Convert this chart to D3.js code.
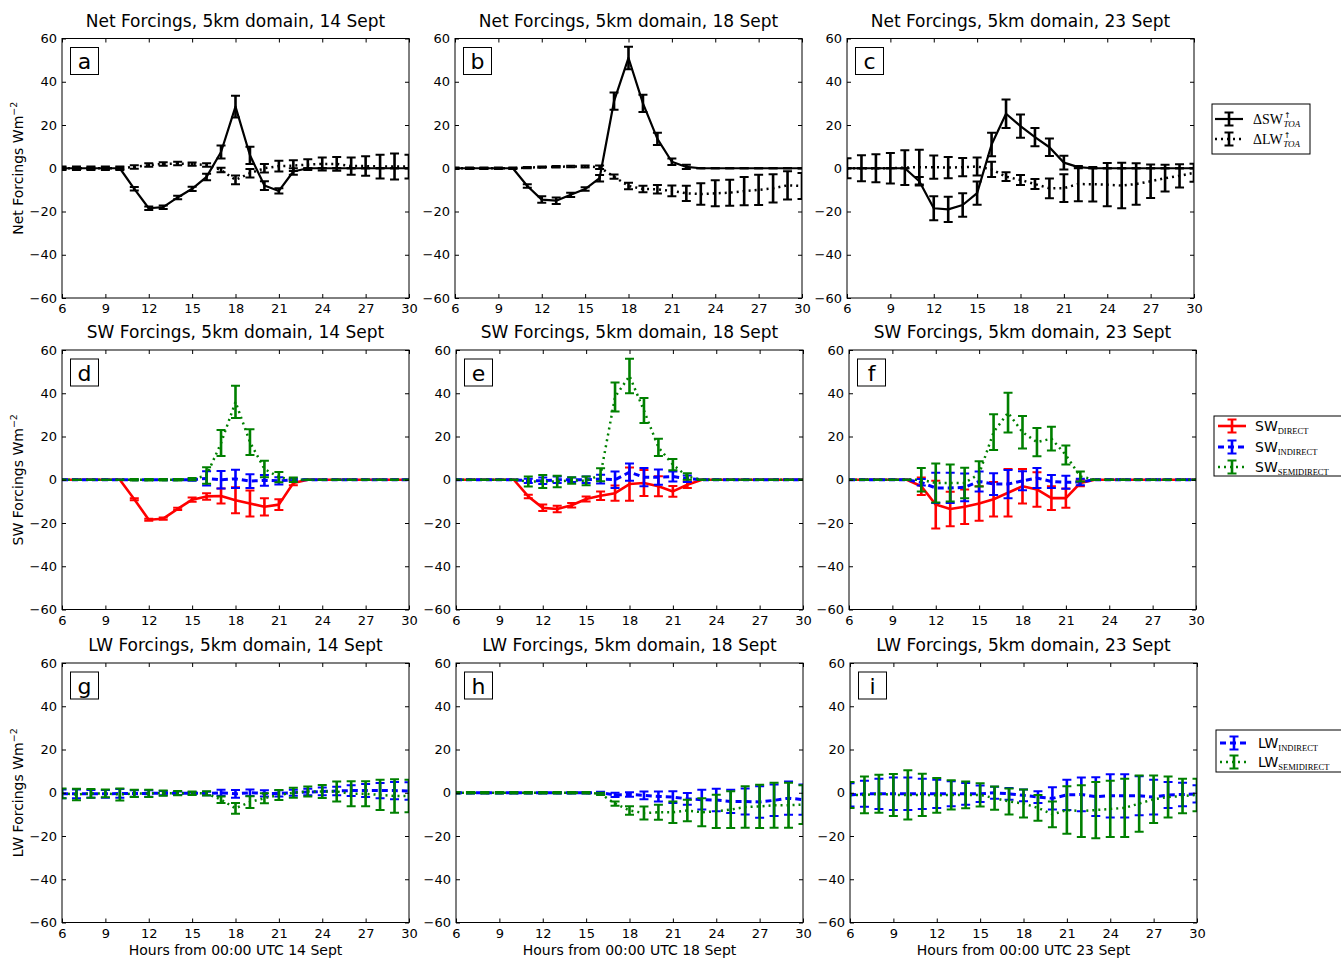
<!DOCTYPE html>
<html>
<head>
<meta charset="utf-8">
<script src="https://cdn.jsdelivr.net/npm/d3@7"></script>
<style>
  body { margin: 0; background: #fff; }
  svg text { font-family: "DejaVu Sans", sans-serif; }
</style>
</head>
<body>
<svg id="fig" width="1341" height="959"></svg>
<script>
// ---- data: hourly means and spreads (W m^-2) ----
const hours = [6,7,8,9,10,11,12,13,14,15,16,17,18,19,20,21,22,23,24,25,26,27,28,29,30];
const xTicks = [6,9,12,15,18,21,24,27,30];
const yTicks = [-60,-40,-20,0,20,40,60];
const days = ["14", "18", "23"];
const rowTitles = ["Net Forcings, 5km domain, ", "SW Forcings, 5km domain, ", "LW Forcings, 5km domain, "];
const rowYLabels = ["Net Forcings", "SW Forcings", "LW Forcings"];
const panelLetters = ["a","b","c","d","e","f","g","h","i"];

// Net TOA forcings
const swNet14    = [0,0,0,0,0,-9.5,-18.5,-18,-13.5,-9.5,-4,7.5,28.5,6,-8,-10.5,-1.5,0,0,0,0,0,0,0,0];
const swNet14Err = [0.3,0.3,0.3,0.3,0.3,0.8,0.8,0.8,0.8,1,1.5,3,5,4,2,1.2,1.5,0,0,0,0,0,0,0,0];
const lwNet14    = [0,0,0,0,0,0.6,1.5,2,2.2,1.9,1.5,-0.8,-5.4,-2.3,0,1,1.2,1.7,2,2,1,1,0.8,0.8,0.8];
const lwNet14Err = [0.8,0.8,0.8,0.8,0.8,0.8,0.8,0.8,0.8,0.8,0.8,1,2,2,2,2.5,2.5,2.5,3,3.2,4,4.5,5.5,6,5.5];

const swNet18    = [0,0,0,0,0,-8.2,-14.5,-15,-12.3,-9.6,-4.6,31,51,30,13.6,3,0.6,0,0,0,0,0,0,0,0];
const swNet18Err = [0,0,0,0,0,0.8,1.5,1.5,1,0.8,1.5,4,5.2,4,2.8,1.5,1,0,0,0,0,0,0,0,0];
const lwNet18    = [0,0,0,0,0,0.3,0.5,0.7,0.8,0.8,0.5,-3.9,-8.2,-9.6,-9.7,-10.5,-11.6,-11.9,-11.6,-11.3,-10.6,-10,-9.3,-7.9,-8.2];
const lwNet18Err = [0.3,0.3,0.3,0.3,0.3,0.3,0.3,0.3,0.3,0.5,0.8,1,1.5,1.5,2,2.5,3.5,5,6,6,6.5,7,6.5,6.5,6];

const swNet23    = [0,0,0,0,0,-6,-18.5,-19,-17,-11.5,11,25.2,19.5,14.4,9.7,2.6,0.5,0,0,0,0,0,0,0,0];
const swNet23Err = [0,0,0,0,0,2,5.6,5.8,5.4,5.4,5.4,6.6,5.4,4.2,4,3.2,0.5,0,0,0,0,0,0,0,0];
const lwNet23    = [0,0,0,0,0.3,0.5,0.5,0.3,0.5,0.8,-0.5,-3.9,-5.4,-7.3,-9.3,-9.2,-7.3,-7.4,-7.6,-8,-7.3,-6,-4.6,-3.5,-2.1];
const lwNet23Err = [4.6,6,6.5,7,8,8,5.4,4.9,4.2,4.2,3.5,2,2.3,2.3,4.6,6.4,8,8,10,10.5,9.6,7.7,6.2,5.4,4.2];

// SW components
const swDirect14      = [0,0,0,0,0,-9,-18.5,-18,-13.5,-9.2,-7.7,-7.5,-9.5,-11,-12.5,-11.5,-1.5,0,0,0,0,0,0,0,0];
const swDirect14Err   = [0,0,0,0,0,0.5,0.5,0.5,0.5,1,1.5,3.5,6,6,4,2.5,1,0,0,0,0,0,0,0,0];
const swIndirect14    = [0,0,0,0,0,0,0,0,0,0,0.6,0,0.4,-0.6,-0.3,-0.5,0,0,0,0,0,0,0,0,0];
const swIndirect14Err = [0,0,0,0,0,0,0,0,0,0.5,3.3,4,4.2,3.2,2.5,1.7,0.5,0,0,0,0,0,0,0,0];
const swSemi14        = [0,0,0,0,0,0,0,0,0,0.3,2,17,36,17.4,5,1.2,0,0,0,0,0,0,0,0,0];
const swSemi14Err     = [0,0,0,0,0,0.3,0.3,0.3,0.3,0.5,3.8,6,7.5,6,3.8,2.4,1,0,0,0,0,0,0,0,0];

const swDirect18      = [0,0,0,0,0,-7.7,-13,-13.5,-11.8,-8.9,-7.4,-6.2,-2,-1.5,-3,-5.4,-2.3,0,0,0,0,0,0,0,0];
const swDirect18Err   = [0,0,0,0,0,0.8,1.5,1.5,1,1.2,2,3.5,7.7,6,4.6,2.5,1.5,0,0,0,0,0,0,0,0];
const swIndirect18    = [0,0,0,0,0,-0.5,-0.5,0,0,0,0.3,0,3.5,1.2,1.2,1.5,0.5,0,0,0,0,0,0,0,0];
const swIndirect18Err = [0,0,0,0,0,1,1.5,1.5,1,1.5,2,3.8,4,4.2,3.5,2.3,1.5,0,0,0,0,0,0,0,0];
const swSemi18        = [0,0,0,0,0,-0.8,-0.8,-0.8,-0.3,-0.5,2.3,38.3,48,32,15,7,1.5,0,0,0,0,0,0,0,0];
const swSemi18Err     = [0,0,0,0,0,2.3,3,2.7,1.5,2,3,6.7,8,5.8,4,2.6,1.5,0,0,0,0,0,0,0,0];

const swDirect23      = [0,0,0,0,0,-3,-11.5,-13.5,-12.5,-11,-9,-6,-3,-4.5,-8.5,-8.5,-1.5,0,0,0,0,0,0,0,0];
const swDirect23Err   = [0,0,0,0,0,4,11,8,8,8,8,11,8,8,5.5,4.5,1.5,0,0,0,0,0,0,0,0];
const swIndirect23    = [0,0,0,0,0,-1.2,-3.8,-3.8,-3.5,-0.8,-2,-2,-0.5,0.8,-0.8,-1.2,-1,0,0,0,0,0,0,0,0];
const swIndirect23Err = [0,0,0,0,0,1.5,7,7,6.4,4.6,5,6.5,4.4,4.6,3,3,1.5,0,0,0,0,0,0,0,0];
const swSemi23        = [0,0,0,0,0,0,-1.5,-1.5,-1.5,2.7,22,31,22,17.4,19,11.4,1.5,0,0,0,0,0,0,0,0];
const swSemi23Err     = [0,0,0,0,0,5.4,9,8.5,7,5.8,8.3,9.2,7.5,6.5,5.5,4.4,2.3,0,0,0,0,0,0,0,0];

// LW components
const lwIndirect14    = [-0.5,-0.5,-0.5,-0.5,-0.3,-0.3,-0.3,-0.2,-0.2,-0.2,-0.3,0,-0.5,0,-0.3,-0.3,0,0.3,0.6,0.8,1,1,1,1,0.8];
const lwIndirect14Err = [2,2,1.8,1.8,2,1.5,1.5,1,0.8,0.6,0.8,1.4,1.8,1.5,1.4,1.4,1.4,1.5,1.8,2,2.5,3,3.5,4,4];
const lwSemi14        = [-0.3,-0.8,-0.3,-0.3,-0.8,-0.3,-0.3,-0.2,-0.2,-0.2,-0.3,-3.2,-7.2,-4.3,-2.5,-1,0,0.6,0.6,0.6,-0.5,-0.5,-1,-1.5,-1.5];
const lwSemi14Err     = [2.3,2.7,2,1.8,2.8,1.7,1.7,1.2,1,0.8,1,1.5,2.5,2.7,2.3,2.3,2.3,2.3,3,4.6,5.8,5.8,7,7.8,7.5];

const lwIndirect18    = [0,0,0,0,0,0,0,0,0,0,0,-1,-0.8,-1.2,-1.7,-2,-2.8,-3.2,-3.4,-4,-4,-4.3,-3.5,-2.5,-3.2];
const lwIndirect18Err = [0.3,0.3,0.3,0.3,0.3,0.3,0.3,0.3,0.3,0.3,0.5,1,1,1.8,2.3,2.7,2.7,4.6,5.2,5.4,6,7.3,7.3,7.7,7];
const lwSemi18        = [0,0,0,0,0,0,0,0,0,0,-0.5,-5,-8.2,-9.4,-9,-9,-8.2,-9,-8.6,-7.8,-6.6,-6.3,-5.8,-5.8,-5.5];
const lwSemi18Err     = [0.3,0.3,0.3,0.3,0.3,0.3,0.3,0.3,0.3,0.3,0.5,1,2,3,3.5,5,5,6.5,7.7,8.5,9.6,10,10.4,10.4,9];

const lwIndirect23    = [-1,-0.5,-0.5,-0.5,-0.5,-0.5,-0.5,-0.5,-0.5,-0.5,0,-0.5,-1.2,-2,-2.6,-1,-0.8,-1.8,-1.4,-1.4,-1.4,-2,-1,-0.8,-0.5];
const lwIndirect23Err = [5.4,6,7,7.5,7.5,7,6.5,5.8,5,3.8,2.8,2.7,2.7,2.7,5.2,7,7.8,9,10,10,9,8,6,5.4,4];
const lwSemi23        = [-1,-1,-0.5,-1,-1,-1,-1.2,-1,-1,-1,-2.5,-4,-5,-7,-10,-8,-8.5,-8,-7.5,-7,-5,-3,-2,-1.5,-1];
const lwSemi23Err     = [6,8.5,8.8,9.7,11.4,9.8,8,6.8,6.2,5.4,5.4,6,6.5,6,6,11,12,13,13,13.5,13,11,9.5,8,7.5];

// ---- line styles per quantity ----
const styles = {
  swNet:    { color: "#000000", dash: null,    width: 2.2 },
  lwNet:    { color: "#000000", dash: "2,4",   width: 2.5 },
  direct:   { color: "#ff0000", dash: null,    width: 2.6 },
  indirect: { color: "#0000ff", dash: "6,4",   width: 3 },
  semi:     { color: "#008000", dash: "2,4",   width: 2.5 }
};

// panels in reading order, each a list of plotted series
const panels = [
  [{ kind: "swNet", v: swNet14, e: swNet14Err }, { kind: "lwNet", v: lwNet14, e: lwNet14Err }],
  [{ kind: "swNet", v: swNet18, e: swNet18Err }, { kind: "lwNet", v: lwNet18, e: lwNet18Err }],
  [{ kind: "swNet", v: swNet23, e: swNet23Err }, { kind: "lwNet", v: lwNet23, e: lwNet23Err }],
  [{ kind: "direct", v: swDirect14, e: swDirect14Err }, { kind: "indirect", v: swIndirect14, e: swIndirect14Err }, { kind: "semi", v: swSemi14, e: swSemi14Err }],
  [{ kind: "direct", v: swDirect18, e: swDirect18Err }, { kind: "indirect", v: swIndirect18, e: swIndirect18Err }, { kind: "semi", v: swSemi18, e: swSemi18Err }],
  [{ kind: "direct", v: swDirect23, e: swDirect23Err }, { kind: "indirect", v: swIndirect23, e: swIndirect23Err }, { kind: "semi", v: swSemi23, e: swSemi23Err }],
  [{ kind: "indirect", v: lwIndirect14, e: lwIndirect14Err }, { kind: "semi", v: lwSemi14, e: lwSemi14Err }],
  [{ kind: "indirect", v: lwIndirect18, e: lwIndirect18Err }, { kind: "semi", v: lwSemi18, e: lwSemi18Err }],
  [{ kind: "indirect", v: lwIndirect23, e: lwIndirect23Err }, { kind: "semi", v: lwSemi23, e: lwSemi23Err }]
];

// ---- figure layout ----
const rowTop = [38.5, 350, 663];
const colLeft = [[62, 455, 847], [62, 456, 849], [62, 456, 850]];
const W = 347, H = 259.5;
const CAP = 4.5;

const svg = d3.select("#fig");
const defs = svg.append("defs");

function drawErrorBar(g, cx, y0, y1, color, elw) {
  g.append("line").attr("x1", cx).attr("x2", cx).attr("y1", y0).attr("y2", y1)
    .attr("stroke", color).attr("stroke-width", elw);
  [y0, y1].forEach(yy => g.append("line")
    .attr("x1", cx - CAP).attr("x2", cx + CAP).attr("y1", yy).attr("y2", yy)
    .attr("stroke", color).attr("stroke-width", 2));
}

panels.forEach((series, i) => {
  const r = Math.floor(i / 3), c = i % 3;
  const left = colLeft[r][c], top = rowTop[r];
  const x = d3.scaleLinear().domain([6, 30]).range([left, left + W]);
  const y = d3.scaleLinear().domain([-60, 60]).range([top + H, top]);
  const g = svg.append("g");

  defs.append("clipPath").attr("id", "clip" + i).append("rect")
    .attr("x", left).attr("y", top).attr("width", W).attr("height", H);
  const plot = g.append("g").attr("clip-path", `url(#clip${i})`);

  series.forEach(s => {
    const st = styles[s.kind];
    const pts = hours.map((h, k) => ({ h: h, v: s.v[k], e: s.e[k] }));
    plot.append("path").datum(pts)
      .attr("d", d3.line().x(d => x(d.h)).y(d => y(d.v)))
      .attr("fill", "none").attr("stroke", st.color)
      .attr("stroke-width", st.width)
      .attr("stroke-dasharray", st.dash)
      .attr("stroke-linejoin", "round");
    pts.forEach(d => drawErrorBar(plot, x(d.h), y(d.v - d.e), y(d.v + d.e), st.color, 2.6));
  });

  // axes with inward ticks on all four sides
  const styleAxis = sel => {
    sel.attr("font-size", 13).attr("font-family", "DejaVu Sans, sans-serif");
    sel.select(".domain").remove();
    sel.selectAll(".tick line").attr("stroke", "#000");
  };
  g.append("g").attr("transform", `translate(0,${top + H})`)
    .call(d3.axisBottom(x).tickValues(xTicks).tickFormat(d3.format("d")).tickSizeInner(-4).tickSizeOuter(0).tickPadding(6))
    .call(styleAxis);
  g.append("g").attr("transform", `translate(0,${top})`)
    .call(d3.axisTop(x).tickValues(xTicks).tickFormat("").tickSizeInner(-4).tickSizeOuter(0))
    .call(styleAxis);
  g.append("g").attr("transform", `translate(${left},0)`)
    .call(d3.axisLeft(y).tickValues(yTicks).tickFormat(d3.format("d")).tickSizeInner(-4).tickSizeOuter(0).tickPadding(5))
    .call(styleAxis);
  g.append("g").attr("transform", `translate(${left + W},0)`)
    .call(d3.axisRight(y).tickValues(yTicks).tickFormat("").tickSizeInner(-4).tickSizeOuter(0))
    .call(styleAxis);

  // frame
  g.append("rect").attr("x", left).attr("y", top).attr("width", W).attr("height", H)
    .attr("fill", "none").attr("stroke", "#000").attr("stroke-width", 1);

  // panel letter
  g.append("rect").attr("x", left + 8.5).attr("y", top + 9).attr("width", 28).attr("height", 27)
    .attr("fill", "#fff").attr("stroke", "#000").attr("stroke-width", 1);
  g.append("text").attr("x", left + 22.5).attr("y", top + 30.5).attr("text-anchor", "middle")
    .attr("font-size", 22).text(panelLetters[i]);

  // title
  g.append("text").attr("x", left + W / 2).attr("y", top - 12).attr("text-anchor", "middle")
    .attr("font-size", 17).text(rowTitles[r] + days[c] + " Sept");

  // y label on first column
  if (c === 0) {
    const t = g.append("text")
      .attr("transform", `translate(23,${top + H / 2}) rotate(-90)`)
      .attr("text-anchor", "middle").attr("font-size", 14);
    t.append("tspan").text(rowYLabels[r] + " Wm");
    t.append("tspan").attr("font-size", 9.5).attr("dy", -6).text("\u22122");
  }
  // x label on bottom row
  if (r === 2) {
    g.append("text").attr("x", left + W / 2).attr("y", 955).attr("text-anchor", "middle")
      .attr("font-size", 14).text("Hours from 00:00 UTC " + days[c] + " Sept");
  }
});

// ---- legends ----
function legendSample(g, x1, x2, yy, st) {
  g.append("line").attr("x1", x1).attr("x2", x2).attr("y1", yy).attr("y2", yy)
    .attr("stroke", st.color).attr("stroke-width", st.width).attr("stroke-dasharray", st.dash);
  const cx = (x1 + x2) / 2;
  drawErrorBar(g, cx, yy - 6.5, yy + 6.5, st.color, 2.6);
}

function legendBox(x, y, w, h) {
  const g = svg.append("g");
  g.append("rect").attr("x", x).attr("y", y).attr("width", w).attr("height", h)
    .attr("fill", "#fff").attr("stroke", "#000").attr("stroke-width", 1);
  return g;
}

// Net legend: math-style labels with stacked super/subscripts
const netLegend = legendBox(1212, 104, 98, 50);
[["swNet", "\u0394SW", 119], ["lwNet", "\u0394LW", 139]].forEach(([kind, main, yy]) => {
  legendSample(netLegend, 1215, 1243, yy, styles[kind]);
  const t = netLegend.append("text").attr("x", 1253).attr("y", yy + 5)
    .style("font-family", "'Liberation Serif', serif").attr("font-size", 14).text(main);
  const w = t.node().getComputedTextLength();
  netLegend.append("text").attr("x", 1253 + w + 1).attr("y", yy - 1)
    .attr("font-size", 8).text("\u2191");
  netLegend.append("text").attr("x", 1253 + w + 0.5).attr("y", yy + 8)
    .style("font-family", "'Liberation Serif', serif").attr("font-style", "italic").attr("font-size", 9).text("TOA");
});

function componentLegend(box, entries, textX) {
  const g = legendBox(box[0], box[1], box[2], box[3]);
  entries.forEach(([kind, main, sub, yy]) => {
    legendSample(g, box[0] + 4, box[0] + 32, yy, styles[kind]);
    const t = g.append("text").attr("x", textX).attr("y", yy + 5).attr("font-size", 14).text(main);
    const w = t.node().getComputedTextLength();
    g.append("text").attr("x", textX + w).attr("y", yy + 7.5)
      .style("font-family", "'Liberation Serif', serif").attr("font-size", 8.5).text(sub);
  });
}

componentLegend([1214, 416, 130, 60], [
  ["direct", "SW", "DIRECT", 426],
  ["indirect", "SW", "INDIRECT", 447],
  ["semi", "SW", "SEMIDIRECT", 467]
], 1255);

componentLegend([1216, 730, 130, 42], [
  ["indirect", "LW", "INDIRECT", 743],
  ["semi", "LW", "SEMIDIRECT", 762]
], 1258);
</script>
</body>
</html>
